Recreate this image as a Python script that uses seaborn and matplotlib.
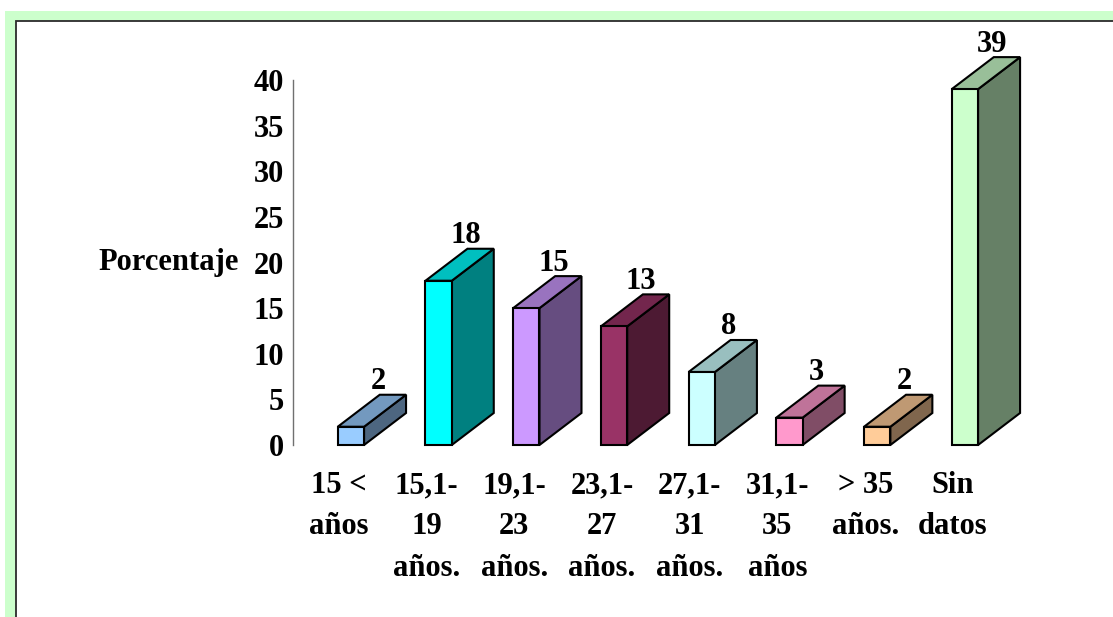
import matplotlib
matplotlib.use("Agg")
import matplotlib.pyplot as plt
import numpy as np
import pandas as pd
import seaborn as sns
from matplotlib.colors import to_rgb
from matplotlib.patches import Polygon, Rectangle
from matplotlib.transforms import ScaledTranslation

# ---- data -------------------------------------------------------------
categories = [
    "15 <\naños",
    "15,1-\n19\naños.",
    "19,1-\n23\naños.",
    "23,1-\n27\naños.",
    "27,1-\n31\naños.",
    "31,1-\n35\naños",
    "> 35\naños.",
    "Sin\ndatos",
]
values = [2, 18, 15, 13, 8, 3, 2, 39]
front_colors = ["#99CCFF", "#00FFFF", "#CC99FF", "#993366",
                "#CCFFFF", "#FF99CC", "#FFCC99", "#CCFFCC"]
y_ticks = [0, 5, 10, 15, 20, 25, 30, 35, 40]
y_label = "Porcentaje"

# ---- style ------------------------------------------------------------
sns.set_style("white")
plt.rcParams["font.family"] = ["Liberation Serif", "DejaVu Serif"]
plt.rcParams["font.weight"] = "bold"
plt.rcParams["text.color"] = "black"
plt.rcParams["axes.labelcolor"] = "black"
FS = 22

W, H = 1113, 617
fig = plt.figure(figsize=(W / 100, H / 100), dpi=100)
fig.patch.set_facecolor("white")

# light green frame with a dark inner edge (top and left visible)
fig.patches.append(Rectangle((5 / W, -0.1), 1.2, (H - 11) / H + 0.1,
                             transform=fig.transFigure, facecolor="#CCFFCC",
                             edgecolor="none", zorder=-2))
fig.patches.append(Rectangle((15.5 / W, -0.1), 1.2, (H - 20.5) / H + 0.1,
                             transform=fig.transFigure, facecolor="white",
                             edgecolor="#2b2b2b", linewidth=1.3, zorder=-1))

ax_left, ax_right = 293 / W, 1100 / W
ax_bottom, ax_top = (H - 445) / H, (H - 80) / H
ax = fig.add_axes([ax_left, ax_bottom, ax_right - ax_left, ax_top - ax_bottom])
ax.set_facecolor("none")
ax.set_zorder(1)

df = pd.DataFrame({"grupo": categories, "pct": values})
sns.barplot(data=df, x="grupo", y="pct", hue="grupo", palette=front_colors,
            saturation=1, width=0.30, edgecolor="black", linewidth=1.5,
            legend=False, ax=ax, zorder=3)

ax.set_xlim(-0.66, 8.54)
ax.set_ylim(0, 40)
ax.set_yticks(y_ticks)

# depth of the 3D extrusion, in pixels converted to data units
px_per_x = ax.transData.transform((1, 0))[0] - ax.transData.transform((0, 0))[0]
px_per_y = ax.transData.transform((0, 1))[1] - ax.transData.transform((0, 0))[1]
DX = 42 / px_per_x
DY = 32 / px_per_y

bars = sorted(ax.patches, key=lambda p: p.get_x())
for bar, col, val in zip(bars, front_colors, values):
    x0 = bar.get_x()
    x1 = x0 + bar.get_width()
    h = bar.get_height()
    rgb = np.array(to_rgb(col))
    top = Polygon([(x0, h), (x1, h), (x1 + DX, h + DY), (x0 + DX, h + DY)],
                  closed=True, facecolor=rgb * 0.75, edgecolor="black",
                  linewidth=1.5, joinstyle="miter", clip_on=False, zorder=2)
    side = Polygon([(x1, 0), (x1 + DX, DY), (x1 + DX, h + DY), (x1, h)],
                   closed=True, facecolor=rgb * 0.5, edgecolor="black",
                   linewidth=1.5, joinstyle="miter", clip_on=False, zorder=2)
    ax.add_patch(side)
    ax.add_patch(top)
    bar.set_clip_on(False)
    ax.annotate(f"{val:g}", xy=(x0 + bar.get_width() / 2 + 27 / px_per_x, h + DY),
                xytext=(0, 4), textcoords="offset points",
                ha="center", va="baseline", fontsize=FS, fontweight="bold",
                color="black", annotation_clip=False, zorder=5)

# axes styling
for s in ["top", "right", "bottom"]:
    ax.spines[s].set_visible(False)
ax.spines["left"].set_color("#707070")
ax.spines["left"].set_linewidth(1.0)
ax.tick_params(axis="y", direction="out", length=4.5, width=1.0,
               color="#707070", labelcolor="black", pad=2, labelsize=FS)
ax.tick_params(axis="x", length=0, pad=19, labelcolor="black", labelsize=FS)
ax.set_xlabel("")
ax.set_ylabel(y_label, rotation=0, ha="right", va="center",
              fontsize=FS, fontweight="bold", color="black")
ax.yaxis.set_label_coords(-54 / (ax_right - ax_left) / W, 0.5)

shift = ScaledTranslation(-12 / 100, 0, fig.dpi_scale_trans)
for lbl in ax.get_xticklabels():
    lbl.set_transform(lbl.get_transform() + shift)
    lbl.set_linespacing(1.55)
    lbl.set_fontweight("bold")
for lbl in ax.get_yticklabels():
    lbl.set_fontweight("bold")

fig.savefig("out.png", dpi=100)
